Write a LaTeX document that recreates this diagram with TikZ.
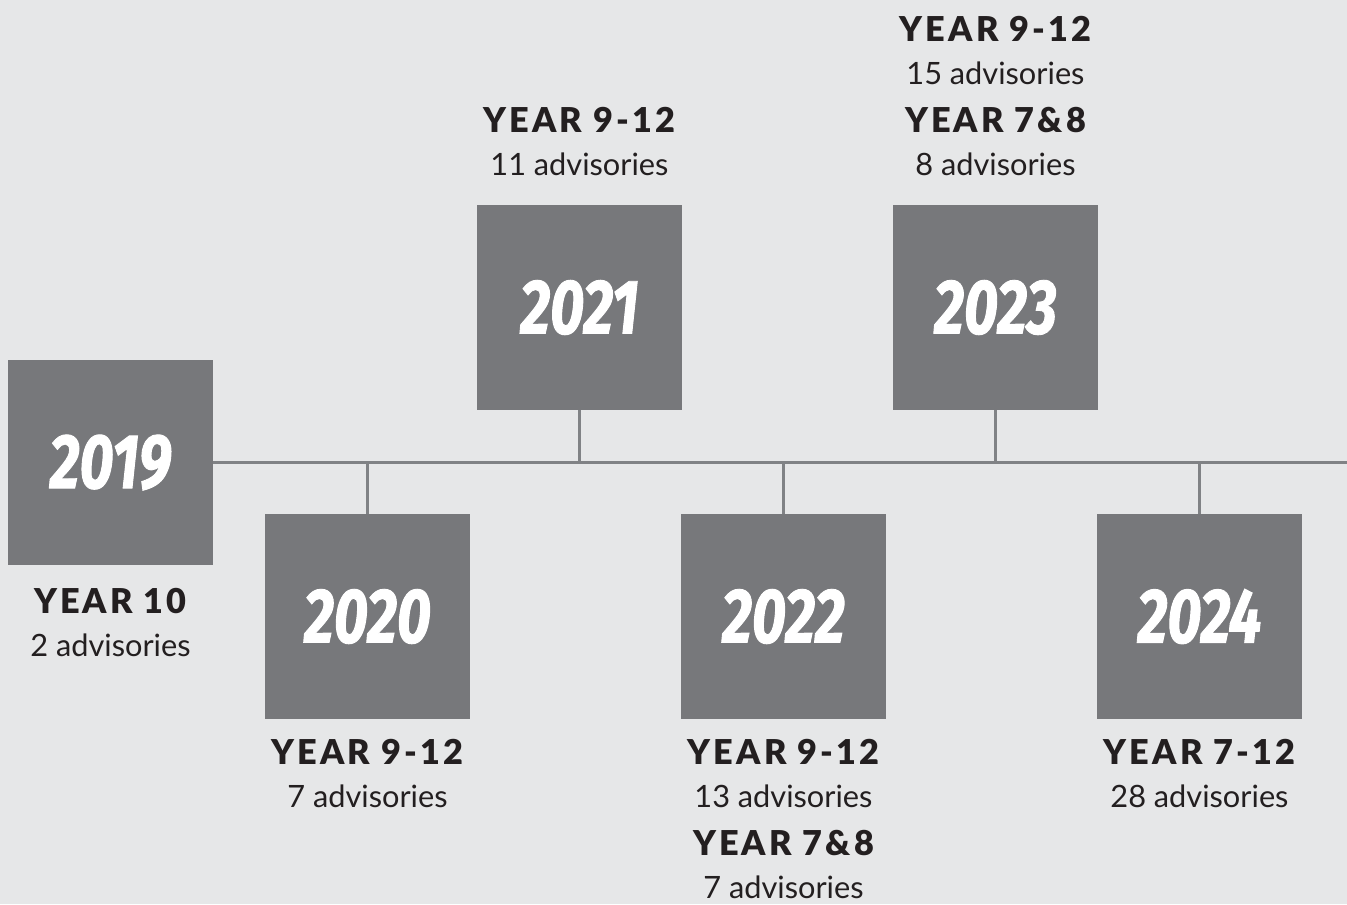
\documentclass[tikz,border=0pt]{standalone}
\usepackage{fontspec}
\setmainfont{Lato}[BoldFont={Lato Black}, BoldFeatures={LetterSpace=9}]
\newfontfamily\yearfont{Fira Sans}[FakeStretch=0.76, FakeBold=1.2]
\usepackage{tikz}
\usetikzlibrary{positioning}
\definecolor{bggrey}{HTML}{E6E7E8}
\definecolor{boxgrey}{HTML}{77787B}
\definecolor{linegrey}{HTML}{808285}
\definecolor{txtgrey}{HTML}{231F20}
\newcommand{\yr}[1]{{\fontsize{19.5}{25}\selectfont\bfseries #1}}

\begin{document}
\begin{tikzpicture}[x=0.02cm, y=-0.02cm]
  \tikzstyle{ynode} = [fill=boxgrey, minimum size=4.1cm, inner sep=0pt, text=white,
    font=\yearfont\bfseries\itshape\fontsize{44}{44}\selectfont]
  \tikzstyle{lnode} = [align=center, inner sep=0pt, text=txtgrey,
    font=\fontsize{17.5}{24.5}\selectfont]
  \tikzstyle{tline} = [draw=linegrey, line width=1.4pt]

  \fill[bggrey] (0,0) rectangle (1347,904);
  \useasboundingbox (0,0) rectangle (1347,904);

  % year boxes
  \node[ynode] (y19) at (110.5,462.5) {2019};
  \node[ynode] (y20) at (367.5,616.5) {2020};
  \node[ynode] (y21) at (579.5,307.5) {2021};
  \node[ynode] (y22) at (783.5,616.5) {2022};
  \node[ynode] (y23) at (995.5,307.5) {2023};
  \node[ynode] (y24) at (1199.5,616.5) {2024};

  % timeline and stems
  \coordinate (tend) at (1347,462.5);
  \draw[tline] (y19.east) -- (tend);
  \draw[tline] (y20.north) -- (y20.north |- y19.east);
  \draw[tline] (y21.south) -- (y21.south |- y19.east);
  \draw[tline] (y22.north) -- (y22.north |- y19.east);
  \draw[tline] (y23.south) -- (y23.south |- y19.east);
  \draw[tline] (y24.north) -- (y24.north |- y19.east);

  % labels
  \node[lnode, below=0.45cm of y19] (l19) {\yr{YEAR 10}\\2 advisories};
  \node[lnode, below=0.4cm of y20] (l20) {\yr{YEAR 9-12}\\7 advisories};
  \node[lnode, above=0.58cm of y21] (l21) {\yr{YEAR 9-12}\\11 advisories};
  \node[lnode, below=0.4cm of y22] (l22) {\yr{YEAR 9-12}\\13 advisories\\[2.5pt]\yr{YEAR 7\&8}\\7 advisories};
  \node[lnode, above=0.58cm of y23] (l23) {\yr{YEAR 9-12}\\15 advisories\\[2.5pt]\yr{YEAR 7\&8}\\8 advisories};
  \node[lnode, below=0.4cm of y24] (l24) {\yr{YEAR 7-12}\\28 advisories};
\end{tikzpicture}
\end{document}
